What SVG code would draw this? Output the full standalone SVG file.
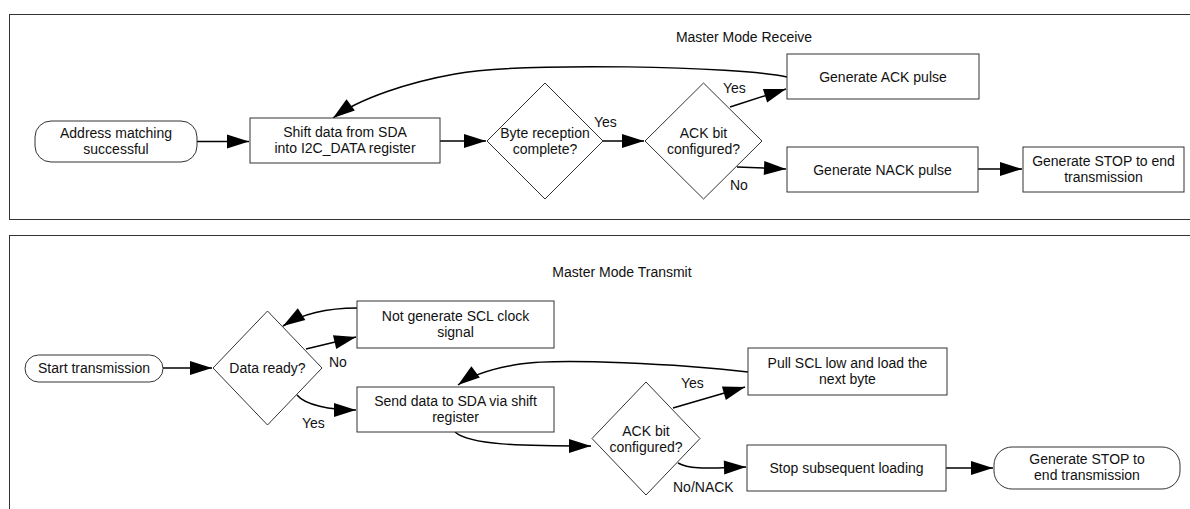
<svg xmlns="http://www.w3.org/2000/svg" width="1190" height="509" viewBox="0 0 1190 509">
<style>
text{font-family:"Liberation Sans",Arial,sans-serif;font-size:14px;fill:#111;text-anchor:middle}
.lbl{text-anchor:start}
.frame{fill:none;stroke:#333;stroke-width:1}
.box{fill:#fff;stroke:#333;stroke-width:1}
.conn path{fill:none;stroke:#000;stroke-width:1.5;marker-end:url(#ah)}
</style>
<defs>
<marker id="ah" markerUnits="userSpaceOnUse" markerWidth="23" markerHeight="15" refX="22" refY="7" orient="auto" overflow="visible">
<path d="M0,0 L22,7 L0,14 z" fill="#000"/>
</marker>
</defs>
<rect width="1190" height="509" fill="#fff"/>
<rect class="frame" x="9.5" y="14.5" width="1190" height="205"/>
<rect class="frame" x="9.5" y="235.5" width="1190" height="290"/>
<text x="744" y="42">Master Mode Receive</text>
<text x="622" y="277">Master Mode Transmit</text>

<g class="conn" id="connectors">
<path d="M197,141.5 L249,141.5"/>
<path d="M440,141 L486,141"/>
<path d="M603,141 L644,141"/>
<path d="M730,107 L786,89"/>
<path d="M737,167 L786,169"/>
<path d="M978,169 L1022,169"/>
<path d="M787,77 C740,66 520,62 455,74 C410,82 360,98 333,118"/>
<path d="M163,368 L212,368"/>
<path d="M306,349 L356,337"/>
<path d="M357,308 C330,308 305,312 283,326"/>
<path d="M297,395 C305,405 330,410 356,410"/>
<path d="M455,432 C470,445 520,446 591,446"/>
<path d="M673,408 L745,387"/>
<path d="M678,463 C690,470 710,468 746,467"/>
<path d="M748,372 C680,364 560,358 520,364 C490,369 470,376 458,385"/>
<path d="M946,468 L993,468"/>
</g>

<g id="addr"><rect class="box" x="35" y="121" width="162" height="41" rx="16"/><text x="116" y="137.5">Address matching</text><text x="116" y="153.5">successful</text></g>
<g id="shift"><rect class="box" x="250" y="118" width="190" height="45"/><text x="345" y="136.5">Shift data from SDA</text><text x="345" y="152.5">into I2C_DATA register</text></g>
<g id="byte"><polygon class="box" points="545,83 603,141 545,199 487,141"/><text x="545" y="137.5">Byte reception</text><text x="545" y="153.5">complete?</text></g>
<g id="ack1"><polygon class="box" points="703.5,83 762,141 703.5,199 645,141"/><text x="703.5" y="137.5">ACK bit</text><text x="703.5" y="153.5">configured?</text></g>
<g id="genack"><rect class="box" x="787" y="54" width="192" height="45"/><text x="883" y="81.5">Generate ACK pulse</text></g>
<g id="gennack"><rect class="box" x="787" y="147" width="191" height="45"/><text x="882.5" y="174.5">Generate NACK pulse</text></g>
<g id="stop1"><rect class="box" x="1023" y="147" width="161" height="45"/><text x="1103.5" y="166">Generate STOP to end</text><text x="1103.5" y="182">transmission</text></g>
<text class="lbl" x="594" y="127">Yes</text>
<text class="lbl" x="723" y="93">Yes</text>
<text class="lbl" x="730" y="190">No</text>

<g id="start"><rect class="box" x="25" y="355" width="138" height="27" rx="13.5"/><text x="94" y="373">Start transmission</text></g>
<g id="ready"><polygon class="box" points="267.5,311 322,368 267.5,425 213,368"/><text x="267.5" y="373">Data ready?</text></g>
<g id="noscl"><rect class="box" x="357" y="301" width="197" height="47"/><text x="455.5" y="320.5">Not generate SCL clock</text><text x="455.5" y="336.5">signal</text></g>
<g id="send"><rect class="box" x="357" y="387" width="197" height="45"/><text x="455.5" y="405.5">Send data to SDA via shift</text><text x="455.5" y="421.5">register</text></g>
<g id="ack2"><polygon class="box" points="646,382 700,438.5 646,495 592,438.5"/><text x="646" y="435.5">ACK bit</text><text x="646" y="451.5">configured?</text></g>
<g id="pull"><rect class="box" x="748" y="348" width="199" height="47"/><text x="847.5" y="367.5">Pull SCL low and load the</text><text x="847.5" y="383.5">next byte</text></g>
<g id="stopload"><rect class="box" x="747" y="445" width="199" height="46"/><text x="846.5" y="473">Stop subsequent loading</text></g>
<g id="stop2"><rect class="box" x="994" y="447" width="186" height="42" rx="18"/><text x="1087" y="464">Generate STOP to</text><text x="1087" y="480">end transmission</text></g>
<text class="lbl" x="329" y="367">No</text>
<text class="lbl" x="302" y="428">Yes</text>
<text class="lbl" x="681" y="388">Yes</text>
<text class="lbl" x="673" y="492">No/NACK</text>
</svg>
